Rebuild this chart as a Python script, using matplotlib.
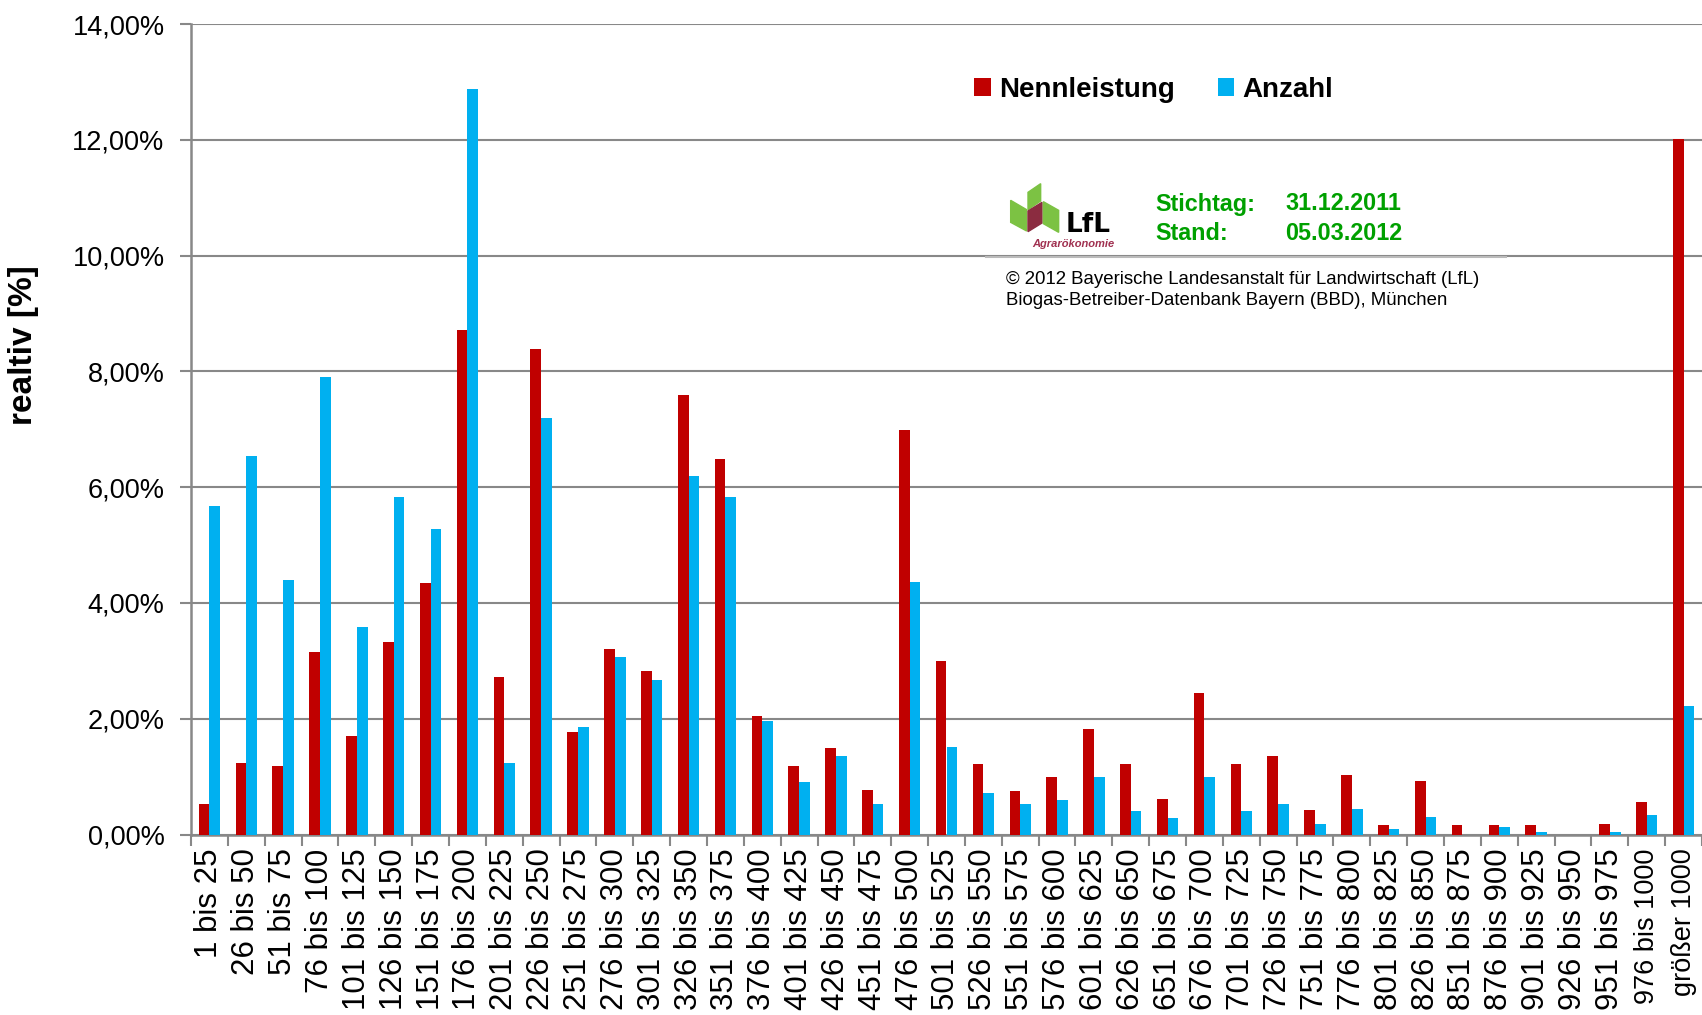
import numpy as np
import matplotlib
matplotlib.use("Agg")
import matplotlib.pyplot as plt
from matplotlib.patches import Polygon
from matplotlib.lines import Line2D

plt.rcParams['font.family'] = ['Liberation Sans', 'DejaVu Sans']

# Leistungsklassen in kW
klassen = ['1 bis 25', '26 bis 50', '51 bis 75', '76 bis 100', '101 bis 125',
           '126 bis 150', '151 bis 175', '176 bis 200', '201 bis 225', '226 bis 250',
           '251 bis 275', '276 bis 300', '301 bis 325', '326 bis 350', '351 bis 375',
           '376 bis 400', '401 bis 425', '426 bis 450', '451 bis 475', '476 bis 500',
           '501 bis 525', '526 bis 550', '551 bis 575', '576 bis 600', '601 bis 625',
           '626 bis 650', '651 bis 675', '676 bis 700', '701 bis 725', '726 bis 750',
           '751 bis 775', '776 bis 800', '801 bis 825', '826 bis 850', '851 bis 875',
           '876 bis 900', '901 bis 925', '926 bis 950', '951 bis 975', '976 bis 1000',
           'größer 1000']

# relative Anteile in %
nennleistung = [0.53, 1.24, 1.18, 3.15, 1.71, 3.33, 4.34, 8.72, 2.72, 8.39,
                1.77, 3.21, 2.82, 7.59, 6.48, 2.04, 1.18, 1.49, 0.77, 6.98,
                3.00, 1.21, 0.75, 0.99, 1.82, 1.21, 0.62, 2.44, 1.21, 1.36,
                0.43, 1.02, 0.16, 0.93, 0.16, 0.16, 0.16, 0.0, 0.19, 0.56,
                12.02]
anzahl = [5.68, 6.54, 4.39, 7.90, 3.58, 5.83, 5.27, 12.88, 1.24, 7.19,
          1.86, 3.06, 2.67, 6.20, 5.83, 1.96, 0.90, 1.36, 0.53, 4.36,
          1.52, 0.72, 0.53, 0.59, 0.99, 0.41, 0.28, 0.99, 0.41, 0.53,
          0.18, 0.44, 0.10, 0.31, 0.0, 0.13, 0.04, 0.0, 0.04, 0.34,
          2.22]

ROT = '#C00000'
BLAU = '#00B0F0'
GRAU = '#888888'
GRUEN = '#00A000'

fig = plt.figure(figsize=(17.02, 10.15), dpi=100)
ax = fig.add_axes([191 / 1702, 1 - 834.5 / 1015, 1 - 191 / 1702, (834.5 - 24) / 1015])

x = np.arange(len(klassen))
breite = 0.29
b1 = ax.bar(x - breite / 2, nennleistung, breite, color=ROT, label='Nennleistung', zorder=3)
b2 = ax.bar(x + breite / 2, anzahl, breite, color=BLAU, label='Anzahl', zorder=3)

ax.set_xlim(-0.5, len(klassen) - 0.5)
ax.set_ylim(0, 14)
ax.set_yticks(np.arange(0, 15, 2))
ax.set_yticklabels([f'{v:.2f}%'.replace('.', ',') for v in np.arange(0, 15, 2)])
ax.yaxis.grid(True, color=GRAU, linewidth=1.5, zorder=0)
ax.set_axisbelow(True)

ax.set_xticks(x)
ax.set_xticklabels(klassen, rotation=90, fontsize=22.5)
# die letzten Beschriftungen sind im Original gestaucht
for lbl in ax.get_xticklabels()[-2:]:
    lbl.set_fontsize(19.5)
ax.set_xticks(np.arange(-0.5, len(klassen), 1), minor=True)
ax.tick_params(axis='x', which='major', length=0, pad=10)
ax.tick_params(axis='x', which='minor', length=8, width=1.5, color=GRAU)
ax.tick_params(axis='y', length=8, width=1.5, color=GRAU, labelsize=19.5, pad=11)

for s in ['top', 'right']:
    ax.spines[s].set_visible(False)
for s in ['left', 'bottom']:
    ax.spines[s].set_color(GRAU)
    ax.spines[s].set_linewidth(1.8)

fig.text(24 / 1702, 1 - 345 / 1015, 'realtiv [%]', rotation=90, fontsize=24,
         fontweight='bold', ha='center', va='center')

leg = ax.legend(handles=[b1, b2], loc='upper left', ncol=2, frameon=False,
                bbox_to_anchor=(974 / 1702, 1 - 77 / 1015), bbox_transform=fig.transFigure,
                prop={'size': 20, 'weight': 'bold'}, handlelength=0.6, handleheight=0.6,
                handletextpad=0.3, columnspacing=1.55, borderpad=0, borderaxespad=0)

# Info-Block mit Stichtag
fig.text(1155 / 1702, 1 - 204 / 1015, 'Stichtag:', color=GRUEN, fontsize=16.8,
         fontweight='bold', va='center')
fig.text(1285 / 1702, 1 - 204 / 1015, '31.12.2011', color=GRUEN, fontsize=16.8,
         fontweight='bold', va='center')
fig.text(1155 / 1702, 1 - 233 / 1015, 'Stand:', color=GRUEN, fontsize=16.8,
         fontweight='bold', va='center')
fig.text(1285 / 1702, 1 - 233 / 1015, '05.03.2012', color=GRUEN, fontsize=16.8,
         fontweight='bold', va='center')
fig.add_artist(Line2D([986 / 1702, 1506 / 1702], [1 - 257 / 1015, 1 - 257 / 1015],
                      color='#BBBBBB', linewidth=1.5, transform=fig.transFigure))
fig.text(1006 / 1702, 1 - 279 / 1015,
         '© 2012 Bayerische Landesanstalt für Landwirtschaft (LfL)',
         fontsize=13.4, va='center')
fig.text(1006 / 1702, 1 - 300 / 1015,
         'Biogas-Betreiber-Datenbank Bayern (BBD), München',
         fontsize=13.4, va='center')

# LfL Logo (vereinfacht)
logo = fig.add_axes([1000 / 1702, 1 - 255 / 1015, 130 / 1702, 80 / 1015])
logo.set_xlim(0, 390)
logo.set_ylim(240, 0)
logo.axis('off')
hellgruen = '#7CC243'
for pts, farbe in [([(84, 52), (122, 26), (122, 78), (84, 104)], hellgruen),
                   ([(32, 76), (80, 104), (80, 168), (32, 142)], hellgruen),
                   ([(84, 108), (126, 82), (126, 144), (84, 170)], '#8B2C40'),
                   ([(130, 80), (176, 106), (176, 172), (130, 146)], hellgruen)]:
    logo.add_patch(Polygon(pts, closed=True, color=farbe))
logo.text(196, 172, 'LfL', fontsize=19, fontweight='bold', family='DejaVu Sans',
          va='baseline')
logo.text(96, 216, 'Agrarökonomie', fontsize=8, fontweight='bold', style='italic',
          color='#A03050', va='baseline')

fig.savefig('out.png', dpi=100)
